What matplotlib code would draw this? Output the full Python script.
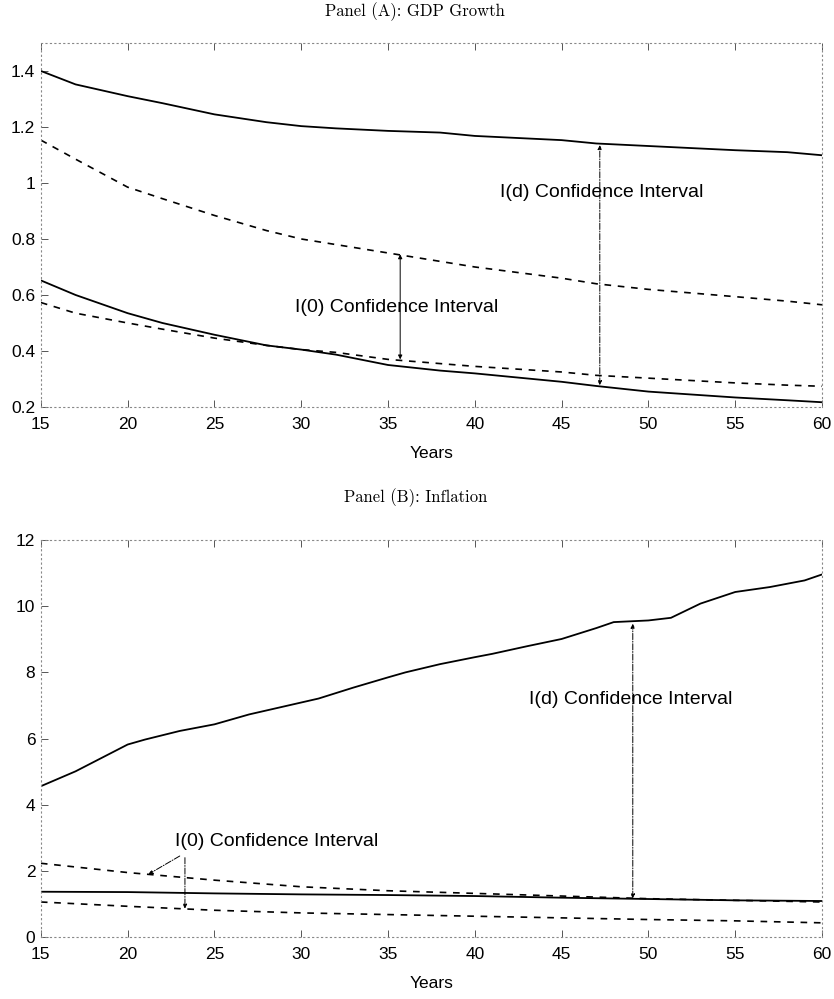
import matplotlib
matplotlib.use('agg')
import matplotlib.pyplot as plt

plt.rcParams['font.family'] = ['Liberation Sans', 'DejaVu Sans']

# Panel A: GDP growth
years_a = [15, 17, 20, 22, 25, 28, 30, 32, 35, 38, 40, 45, 47, 50, 55, 58, 60]
gdp_id_upper = [1.40, 1.352, 1.31, 1.285, 1.245, 1.217, 1.203, 1.195, 1.186, 1.18, 1.168, 1.153, 1.141, 1.132, 1.117, 1.11, 1.099]
gdp_i0_upper = [1.153, 1.085, 0.985, 0.944, 0.884, 0.83, 0.80, 0.78, 0.75, 0.72, 0.70, 0.66, 0.64, 0.62, 0.594, 0.578, 0.565]
gdp_id_lower = [0.652, 0.60, 0.535, 0.50, 0.458, 0.42, 0.405, 0.387, 0.35, 0.33, 0.32, 0.29, 0.275, 0.255, 0.234, 0.224, 0.217]
gdp_i0_lower = [0.573, 0.535, 0.50, 0.478, 0.446, 0.42, 0.405, 0.395, 0.37, 0.355, 0.345, 0.325, 0.313, 0.303, 0.286, 0.278, 0.274]

# Panel B: inflation
years_b = [15, 17, 20, 21, 23, 25, 27, 30, 31, 33, 35, 36, 38, 40, 41, 43, 45, 47, 48, 50, 51.3, 53, 55, 57, 59, 60]
inf_id_upper = [4.56, 5.01, 5.82, 5.97, 6.23, 6.43, 6.73, 7.09, 7.21, 7.54, 7.85, 8.0, 8.25, 8.46, 8.56, 8.79, 9.01, 9.34, 9.52, 9.57, 9.65, 10.08, 10.43, 10.58, 10.78, 10.96]
years_b2 = [15, 20, 25, 30, 35, 40, 45, 50, 55, 60]
inf_i0_upper = [2.23, 1.95, 1.72, 1.52, 1.40, 1.32, 1.24, 1.16, 1.11, 1.06]
inf_id_lower = [1.37, 1.36, 1.32, 1.29, 1.27, 1.24, 1.19, 1.15, 1.11, 1.09]
inf_i0_lower = [1.06, 0.93, 0.81, 0.73, 0.68, 0.63, 0.58, 0.53, 0.49, 0.43]

xticks = [15, 20, 25, 30, 35, 40, 45, 50, 55, 60]

fig = plt.figure(figsize=(8.34, 9.99), dpi=100)
ax1 = fig.add_axes([0.049, 0.5926, 0.9366, 0.3644])
ax2 = fig.add_axes([0.049, 0.062, 0.9366, 0.3974])

dash = (0, (4, 4))


def style_axes(ax):
    for s in ax.spines.values():
        s.set_linestyle((0, (1, 3)))
        s.set_color('#888888')
        s.set_linewidth(0.8)
    ax.set_xlim(15, 60)
    ax.set_xticks(xticks)
    ax.set_xticklabels([str(t) for t in xticks])
    ax.tick_params(direction='in', length=5, width=0.7, colors='#555555',
                   labelcolor='black', labelsize=12.5, top=True, right=False)
    ax.tick_params(axis='x', pad=7)
    ax.tick_params(axis='y', pad=4)
    ax.set_xlabel('Years', fontsize=12.5, labelpad=10)


# Panel A
ax1.plot(years_a, gdp_id_upper, color='black', lw=1.3)
ax1.plot(years_a, gdp_id_lower, color='black', lw=1.3)
ax1.plot(years_a, gdp_i0_upper, color='black', lw=1.2, linestyle=dash)
ax1.plot(years_a, gdp_i0_lower, color='black', lw=1.2, linestyle=dash)
ax1.set_ylim(0.2, 1.5)
ax1.set_yticks([0.2, 0.4, 0.6, 0.8, 1.0, 1.2, 1.4])
ax1.set_yticklabels(['0.2', '0.4', '0.6', '0.8', '1', '1.2', '1.4'])
style_axes(ax1)
fig.text(0.498, 1 - 12 / 999, 'Panel (A): GDP Growth', fontsize=12,
         family='cmr10', ha='center', va='center')

ax1.annotate('', xy=(35.7, 0.745), xytext=(35.7, 0.37),
             arrowprops=dict(arrowstyle='<|-|>', color='black', lw=0.7,
                             mutation_scale=6, shrinkA=0, shrinkB=0))
ax1.text(35.5, 0.557, 'I(0) Confidence Interval', fontsize=14,
         ha='center', va='center')
ax1.annotate('', xy=(47.2, 1.135), xytext=(47.2, 0.278),
             arrowprops=dict(arrowstyle='<|-|>', color='black', lw=0.7,
                             linestyle='-.', mutation_scale=6,
                             shrinkA=0, shrinkB=0))
ax1.text(47.3, 0.966, 'I(d) Confidence Interval', fontsize=14,
         ha='center', va='center')

# Panel B
ax2.plot(years_b, inf_id_upper, color='black', lw=1.3)
ax2.plot(years_b2, inf_id_lower, color='black', lw=1.3)
ax2.plot(years_b2, inf_i0_upper, color='black', lw=1.2, linestyle=dash)
ax2.plot(years_b2, inf_i0_lower, color='black', lw=1.2, linestyle=dash)
ax2.set_ylim(0, 12)
ax2.set_yticks([0, 2, 4, 6, 8, 10, 12])
style_axes(ax2)
fig.text(0.498, 1 - 498 / 999, 'Panel (B): Inflation', fontsize=12,
         family='cmr10', ha='center', va='center')

ax2.annotate('', xy=(49.1, 9.47), xytext=(49.1, 1.17),
             arrowprops=dict(arrowstyle='<|-|>', color='black', lw=0.7,
                             linestyle='-.', mutation_scale=6,
                             shrinkA=0, shrinkB=0))
ax2.text(49.0, 7.19, 'I(d) Confidence Interval', fontsize=14,
         ha='center', va='center')
ax2.text(28.6, 2.89, 'I(0) Confidence Interval', fontsize=14,
         ha='center', va='center')
ax2.annotate('', xy=(21.2, 1.9), xytext=(23.0, 2.45),
             arrowprops=dict(arrowstyle='-|>', color='black', lw=0.7,
                             linestyle='-.', mutation_scale=6,
                             shrinkA=0, shrinkB=0))
ax2.annotate('', xy=(23.3, 0.86), xytext=(23.3, 2.4),
             arrowprops=dict(arrowstyle='-|>', color='black', lw=0.7,
                             linestyle='-.', mutation_scale=6,
                             shrinkA=0, shrinkB=0))

fig.savefig('out.png', dpi=100, facecolor='white')
